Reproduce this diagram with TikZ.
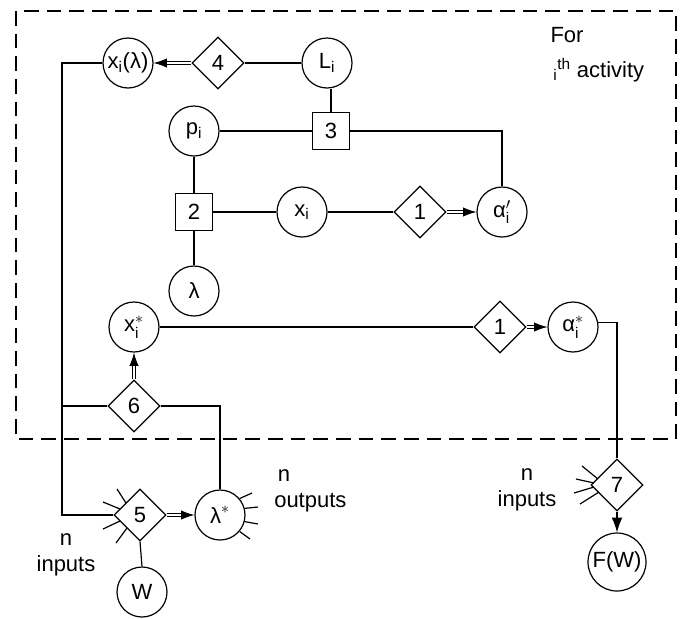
\documentclass[tikz,border=0pt]{standalone}
\usepackage{fontspec}
\setmainfont{Liberation Sans}
\usepackage{amsmath}
\usetikzlibrary{shapes.geometric,arrows.meta,calc}
\newcommand{\dblarrow}[2]{%
  \draw[dbl] (#1) -- (#2);
  \draw[tiponly] ($(#2)!10pt!(#1)$) -- (#2);}
\tikzset{
  every node/.style={font=\fontsize{16.5}{19.5}\selectfont},
  circ/.style={circle, draw, line width=0.9pt, minimum size=37.5pt, inner sep=0pt},
  dia/.style={diamond, draw, line width=0.9pt, minimum width=39pt, minimum height=39pt, inner sep=0pt},
  sq/.style={rectangle, draw, line width=0.9pt, minimum size=28pt, inner sep=0pt},
  conn/.style={line width=0.9pt},
  dbl/.style={double, double distance=1.6pt, line width=0.75pt, shorten >=8pt},
  tiponly/.style={-{Latex[length=10pt,width=7pt]}, line width=0.7pt},
  stub/.style={line width=0.9pt},
  lbl/.style={align=center, inner sep=0pt},
  frame/.style={line width=0.9pt, dash pattern=on 11pt off 6pt}
}
\begin{document}
\begin{tikzpicture}[x=0.75pt, y=-0.75pt]
\useasboundingbox (0,0) rectangle (684,618);
% frame
\draw[frame] (16,11) rectangle (676,439);
% nodes
\node[circ] (xl) at (128,63) {x\textsubscript{i}(λ)};
\node[dia] (d4) at (218,63) {4};
\node[circ] (Li) at (327,63) {L\textsubscript{i}};
\node[sq] (b3) at (331,131) {3};
\node[circ] (pi) at (194,131) {p\textsubscript{i}};
\node[sq] (b2) at (194,212) {2};
\node[circ] (xi) at (302,212) {x\textsubscript{i}};
\node[dia] (d1) at (420,212) {1};
\node[circ] (ap) at (502,212) {$\text{α}'_{\text{i}}$};
\node[circ] (lam) at (194,291) {λ};
\node[circ] (xs) at (134,327) {$\text{x}^{\ast}_{\text{i}}$};
\node[dia] (d1b) at (500,327) {1};
\node[circ] (as) at (573,327) {$\text{α}^{\ast}_{\text{i}}$};
\node[dia] (d6) at (134,406) {6};
\node[dia] (d5) at (140,515) {5};
\node[circ] (ls) at (220,515) {$\text{λ}^{\ast}$};
\node[circ] (W) at (142,592) {W};
\node[dia] (d7) at (617,485) {7};
\node[circ, minimum size=43.5pt] (FW) at (617,562) {F(W)};
% labels
\node[lbl] (for) at (567,35) {For};
\node[lbl, anchor=west] (act) at (553,70) {\textsubscript{i}\textsuperscript{th} activity};
\node[lbl, align=left, anchor=west] (nout) at (274,491) {\,n\\outputs};
\node[lbl] (nin1) at (66,555) {n\\inputs};
\node[lbl] (nin2) at (527,490) {n\\inputs};
% connectors
\draw[conn] (Li.west) -- (d4.east);
\dblarrow{d4.west}{xl.east}
\draw[conn] (b3.north) -- (b3.north |- Li.south);
\draw[conn] (pi.east) -- (b3.west);
\draw[conn] (b3.east) -| (ap.north);
\draw[conn] (pi.south) -- (b2.north);
\draw[conn] (b2.south) -- (lam.north);
\draw[conn] (b2.east) -- (xi.west);
\draw[conn] (xi.east) -- (d1.west);
\dblarrow{d1.east}{ap.west}
\coordinate (cl) at (62,515);
\draw[conn] (xl.west) -| (cl) -- (d5.west);
\draw[conn] (d6.west) -- (d6.west -| cl);
\dblarrow{d6.north}{xs.south}
\draw[conn] (d6.east) -| (ls.north);
\draw[conn] (xs.east) -- (d1b.west);
\dblarrow{d1b.east}{as.west}
\draw[conn] (as.10) -| (d7.north);
\dblarrow{d5.east}{ls.west}
\draw[conn] (d5.south) -- (W.north);
\draw[conn, -{Latex[length=11pt,width=8pt]}] (d7.south) -- (FW.north);
% stubs
\foreach \ax/\ay/\bx/\by in {-23/-26/-14/-12, -37/-13/-20/-6, -37/14/-20/6, -24/28/-13/13}
  \draw[stub] ($(d5)+(\ax,\ay)$) -- ($(d5)+(\bx,\by)$);
\foreach \ax/\ay/\bx/\by in {-35/-19/-19/-6, -41/-6/-23/-2, -43/8/-23/2, -37/19/-18/7}
  \draw[stub] ($(d7)+(\ax,\ay)$) -- ($(d7)+(\bx,\by)$);
\draw[stub] (ls.40) -- ($(ls)+(32,-22)$);
\draw[stub] (ls.15) -- ($(ls)+(38,-8)$);
\draw[stub] (ls.-15) -- ($(ls)+(38,9)$);
\draw[stub] (ls.-40) -- ($(ls)+(30,24)$);
\end{tikzpicture}
\end{document}
